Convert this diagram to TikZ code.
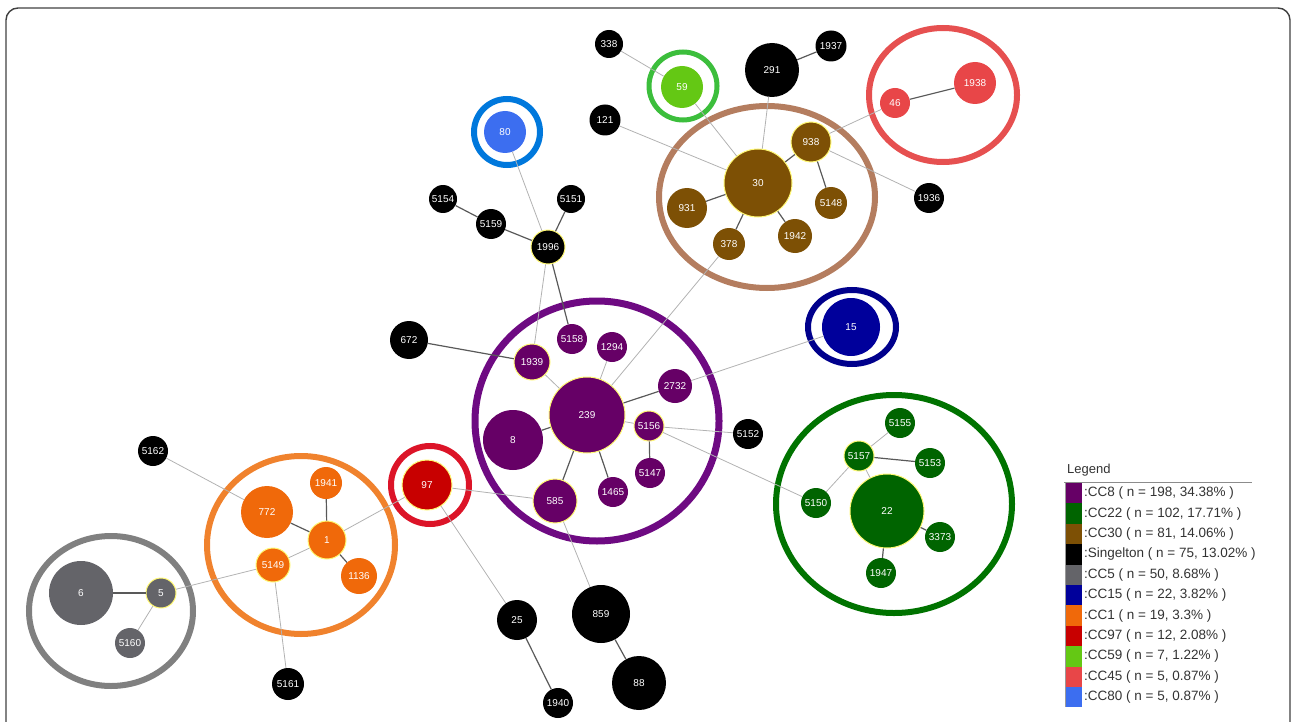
\documentclass[tikz,border=0pt]{standalone}
\usepackage{fontspec}
\setmainfont{Liberation Sans}
\definecolor{cceight}{RGB}{102,0,102}
\definecolor{cctwtwo}{RGB}{0,100,0}
\definecolor{ccthirty}{RGB}{125,80,5}
\definecolor{ccsingle}{RGB}{0,0,0}
\definecolor{ccfive}{RGB}{100,100,105}
\definecolor{ccfifteen}{RGB}{0,0,155}
\definecolor{ccone}{RGB}{240,105,10}
\definecolor{ccninety}{RGB}{200,0,0}
\definecolor{ccfifty}{RGB}{100,200,20}
\definecolor{ccfortyfive}{RGB}{232,70,72}
\definecolor{cceighty}{RGB}{60,110,240}
\begin{document}
\begin{tikzpicture}[x=1pt,y=-1pt,
    st/.style={circle, inner sep=0pt, text=white, font=\fontsize{10}{10}\selectfont},
    fd/.style={draw=yellow!55!white, line width=1pt},
    nf/.style={},
    dk/.style={draw=black!65, line width=1.2pt},
    lt/.style={draw=black!30, line width=0.8pt},
    ring/.style={line width=6pt},
    legtext/.style={anchor=west, inner sep=0pt, text=black!80, font=\fontsize{13.5}{13.5}\selectfont}]
    \useasboundingbox (0,0) rectangle (1292,722);
    \draw[black!75, line width=1.4pt, rounded corners=12pt] (6,730) -- (6,8) -- (1290,8) -- (1290,730);
    % rings round the clonal complexes
    \draw[ring, draw={rgb,255:red,0;green,120;blue,220}] (507,132) circle (33);
    \draw[ring, line width=5pt, draw={rgb,255:red,60;green,190;blue,60}] (683,86) circle (34);
    \draw[ring, draw={rgb,255:red,230;green,80;blue,80}] (943,95) ellipse (74 and 67);
    \draw[ring, draw={rgb,255:red,180;green,125;blue,95}] (767,197) ellipse (108 and 91);
    \draw[ring, draw={rgb,255:red,0;green,0;blue,140}] (852,327) ellipse (44 and 37);
    \draw[ring, line width=7pt, draw={rgb,255:red,110;green,10;blue,130}] (597,421) ellipse (122 and 120);
    \draw[ring, draw={rgb,255:red,220;green,20;blue,40}] (430,485) circle (39);
    \draw[ring, draw={rgb,255:red,240;green,130;blue,45}] (301,545) ellipse (94 and 89);
    \draw[ring, draw={rgb,255:red,128;green,128;blue,128}] (111,611) ellipse (82 and 75);
    \draw[ring, draw={rgb,255:red,0;green,115;blue,0}] (894,504) ellipse (118 and 109);
    % sequence types
    \foreach \n/\x/\y/\d/\s in {338/609/44/28/nf, 291/772/70/54/nf, 1937/831/46/31/nf,
        121/605/120/31/nf, 1936/929/198/30/nf, 5154/443/199/28/nf, 5159/491/224/30/nf,
        5151/571/199/28/nf, 1996/548/247/34/fd, 672/409/340/38/nf, 5152/748/434/30/nf,
        5162/153/451/30/nf, 5161/288/684/32/nf, 25/517/620/40/nf, 1940/558/703/30/nf,
        859/601/614/58/nf, 88/639/683/54/nf}
      \node[st, \s, fill=ccsingle, minimum size=\d pt] (st\n) at (\x,\y) {\n};
    \foreach \n/\x/\y/\d/\s in {239/587/415/76/fd, 8/513/440/60/nf, 1939/532/362/36/fd,
        5158/572/339/30/nf, 1294/612/347/30/nf, 2732/675/386/34/nf, 5156/649/426/30/fd,
        5147/650/473/30/nf, 1465/613/492/30/nf, 585/555/501/44/fd}
      \node[st, \s, fill=cceight, minimum size=\d pt] (st\n) at (\x,\y) {\n};
    \foreach \n/\x/\y/\d/\s in {30/758/183/68/fd, 938/811/142/40/fd, 931/687/208/40/nf,
        378/729/244/32/nf, 1942/795/236/34/nf, 5148/831/203/32/nf}
      \node[st, \s, fill=ccthirty, minimum size=\d pt] (st\n) at (\x,\y) {\n};
    \foreach \n/\x/\y/\d/\s in {22/887/511/74/fd, 5157/859/456/30/fd, 5155/900/423/30/nf,
        5153/930/463/30/nf, 5150/816/503/30/nf, 3373/940/537/30/nf, 1947/881/573/30/nf}
      \node[st, \s, fill=cctwtwo, minimum size=\d pt] (st\n) at (\x,\y) {\n};
    \foreach \n/\x/\y/\d/\s in {772/267/512/52/nf, 1941/326/483/32/nf, 1/327/540/38/fd,
        1136/359/576/36/nf, 5149/273/565/34/fd}
      \node[st, \s, fill=ccone, minimum size=\d pt] (st\n) at (\x,\y) {\n};
    \foreach \n/\x/\y/\d/\s in {6/81/593/64/nf, 5/161/593/30/fd, 5160/130/643/30/nf}
      \node[st, \s, fill=ccfive, minimum size=\d pt] (st\n) at (\x,\y) {\n};
    \node[st, fill=ccfifteen, minimum size=58pt] (st15) at (851,327) {15};
    \node[st, fd, fill=ccninety, minimum size=50pt] (st97) at (427,485) {97};
    \node[st, fill=ccfifty, minimum size=42pt] (st59) at (682,87) {59};
    \node[st, fill=ccfortyfive, minimum size=30pt] (st46) at (895,103) {46};
    \node[st, fill=ccfortyfive, minimum size=42pt] (st1938) at (975,83) {1938};
    \node[st, fill=cceighty, minimum size=42pt] (st80) at (505,132) {80};
    % links
    \foreach \a/\b in {291/1937, 30/938, 938/5148, 30/931, 30/378, 30/1942, 46/1938,
        5154/5159, 5159/1996, 5151/1996, 1996/5158, 672/1939, 239/2732, 239/8, 239/585,
        239/1465, 5156/5147, 25/1940, 859/88, 1/772, 1/1941, 1/1136, 5/6, 5157/5153,
        22/3373, 22/1947}
      \draw[dk] (st\a) -- (st\b);
    \foreach \a/\b in {338/59, 59/30, 291/30, 121/30, 938/46, 938/1936, 378/239, 80/1996,
        1996/1939, 1939/239, 239/1294, 239/5156, 5156/5152, 5156/5150, 2732/15, 585/97,
        585/859, 97/25, 97/1, 1/5149, 5149/5, 5149/5161, 772/5162, 5/5160, 5157/5155,
        5157/5150, 5157/22}
      \draw[lt] (st\a) -- (st\b);
    % legend
    \node[legtext, font=\fontsize{13}{13}\selectfont] (legtitle) at (1067,470) {Legend};
    \draw[black!45, line width=1pt] (1064,482) -- (1252,482);
    \foreach \c/\t [count=\i from 0] in {cceight/{:CC8 ( n = 198, 34.38\% )},
        cctwtwo/{:CC22 ( n = 102, 17.71\% )}, ccthirty/{:CC30 ( n = 81, 14.06\% )},
        ccsingle/{:Singelton ( n = 75, 13.02\% )}, ccfive/{:CC5 ( n = 50, 8.68\% )},
        ccfifteen/{:CC15 ( n = 22, 3.82\% )}, ccone/{:CC1 ( n = 19, 3.3\% )},
        ccninety/{:CC97 ( n = 12, 2.08\% )}, ccfifty/{:CC59 ( n = 7, 1.22\% )},
        ccfortyfive/{:CC45 ( n = 5, 0.87\% )}, cceighty/{:CC80 ( n = 5, 0.87\% )}} {
      \fill[\c] (1066,{483+20.4*\i}) rectangle (1082,{503.4+20.4*\i});
      \node[legtext] (leg\i) at (1084,{493.2+20.4*\i}) {\t};
    }
    \draw[black!40, line width=0.8pt] (1065.5,483) -- (1065.5,707.4);
\end{tikzpicture}
\end{document}
